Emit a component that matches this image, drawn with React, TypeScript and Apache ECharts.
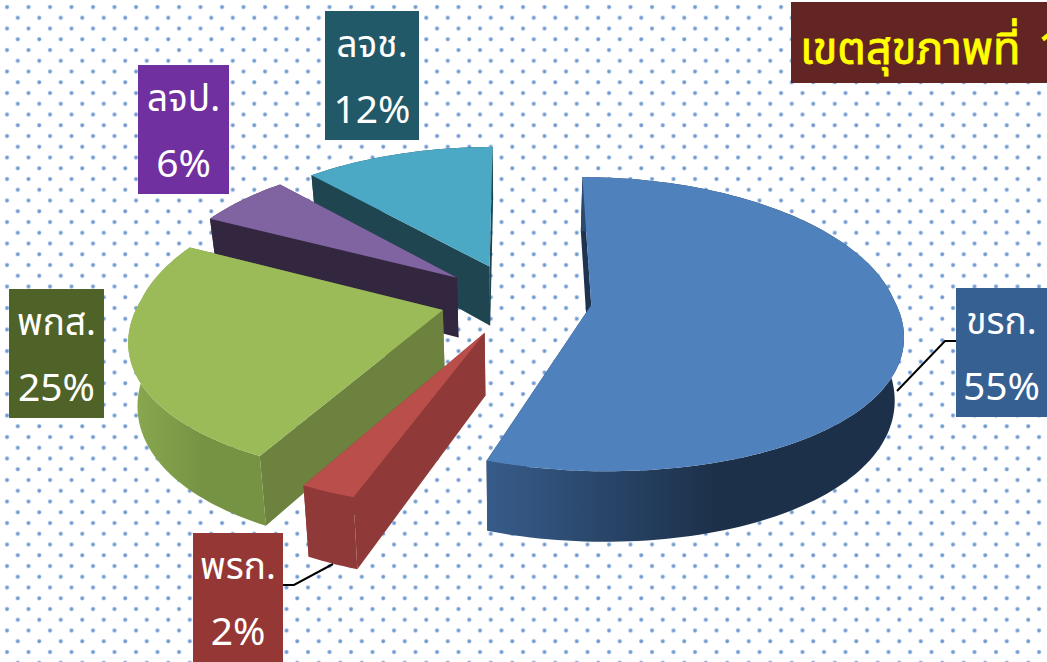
import React, { useEffect, useRef } from "react";
import * as echarts from "echarts";

const categories = ["ขรก.", "พรก.", "พกส.", "ลจป.", "ลจช."];
const shares = [55.3, 2.4, 24.8, 5.8, 11.7];
const percentLabels = ["55%", "2%", "25%", "6%", "12%"];
const topColors = ["#4F81BD", "#BA4E4B", "#9BBB59", "#8064A2", "#4BA9C6"];
const planeColors = ["#1D3350", "#8F3A38", "#6C823E", "#33263F", "#1F4650"];
const wallFrom = ["#375C8A", "#8F3A38", "#8BA94F", "#33263F", "#1F4650"];
const wallTo = ["#1C3049", "#8F3A38", "#769344", "#33263F", "#1F4650"];
const labelFills = ["#376092", "#953735", "#4F6228", "#7030A0", "#215968"];
const labelBoxes = [
  [956, 288, 91, 129],
  [193, 533, 90, 129],
  [9, 289, 95, 129],
  [138, 65, 91, 129],
  [325, 11, 94, 129],
];
const drawOrder = [4, 3, 2, 1, 0];
const titleWords = ["เขตสุขภาพที่ ", "1"];

const CX = 516;
const CY = 299;
const RADIUS = 303;
const SQUASH = 143;
const PERSPECTIVE_Y = 0.13;
const PERSPECTIVE_X_FRONT = 0.175;
const EXPLODE = 0.25;
const DEPTH = 61;
const BOTTOM_SCALE = 0.976;
const FONT = '"Noto Sans Thai", "Noto Sans Thai Looped", "Noto Sans", "DejaVu Sans", sans-serif';

function project(u: number, v: number, low: boolean) {
  const den = 1 - PERSPECTIVE_Y * v;
  const denX = v > 0 ? 1 - PERSPECTIVE_X_FRONT * v : den;
  const x = (RADIUS * u) / denX;
  const y = (SQUASH * v) / den;
  if (!low) return [CX + x, CY + y];
  return [CX + x * BOTTOM_SCALE, CY + y + DEPTH / den];
}

function sliceShapes(start: number, end: number, i: number) {
  const mid = (start + end) / 2;
  const ox = Math.sin(mid) * EXPLODE;
  const oy = -Math.cos(mid) * EXPLODE;
  const steps = Math.max(4, Math.ceil((end - start) * 40));
  const top: number[][] = [];
  const low: number[][] = [];
  for (let s = 0; s <= steps; s++) {
    const a = start + ((end - start) * s) / steps;
    const u = ox + Math.sin(a);
    const v = oy - Math.cos(a);
    top.push(project(u, v, false));
    low.push(project(u, v, true));
  }
  const apexT = project(ox, oy, false);
  const apexL = project(ox, oy, true);
  const poly = (points: number[][], fill: any) => ({
    type: "polygon",
    shape: { points },
    style: { fill, stroke: null },
  });
  const wall = new echarts.graphic.LinearGradient(0, 0, 1, 0, [
    { offset: 0, color: wallFrom[i] },
    { offset: 0.55, color: wallTo[i] },
    { offset: 1, color: wallTo[i] },
  ]);
  return [
    poly([apexT, top[0], low[0], apexL], planeColors[i]),
    poly([apexT, top[steps], low[steps], apexL], planeColors[i]),
    poly([...top, ...low.slice().reverse()], wall),
    poly([apexT, ...top], topColors[i]),
  ];
}

export default function App() {
  const ref = useRef<HTMLDivElement>(null);
  useEffect(() => {
    document.body.style.margin = "0";
    const chart = echarts.init(ref.current!, undefined, { renderer: "svg" });
    const total = shares.reduce((a, b) => a + b, 0);
    const starts: number[] = [];
    let acc = 0;
    shares.forEach((s) => {
      starts.push((acc / total) * Math.PI * 2);
      acc += s;
    });
    const order = drawOrder.map((i) => ({ value: shares[i], name: categories[i], idx: i }));
    const labels: any[] = [];
    categories.forEach((c, i) => {
      const [x, y, w, h] = labelBoxes[i];
      labels.push({
        type: "rect",
        shape: { x, y, width: w, height: h },
        style: { fill: labelFills[i] },
        z: 10,
      });
      labels.push({
        type: "text",
        x: x + w / 2,
        y: y + h / 2 + 3,
        z: 11,
        style: {
          text: `{n|${c}}\n{p|${percentLabels[i]}}`,
          fill: "#FFFFFF",
          align: "center",
          verticalAlign: "middle",
          rich: {
            n: { font: `37px ${FONT}`, fill: "#FFFFFF", lineHeight: 65 },
            p: { font: `39px ${FONT}`, fill: "#FFFFFF", lineHeight: 65 },
          },
        },
      });
    });
    chart.setOption({
      animation: false,
      series: [
        {
          type: "custom",
          coordinateSystem: "none",
          silent: true,
          data: order,
          renderItem: (params: any) => {
            const i = order[params.dataIndex].idx;
            const start = starts[i];
            const end = start + (shares[i] / total) * Math.PI * 2;
            return { type: "group", children: sliceShapes(start, end, i) };
          },
        },
      ],
      graphic: [
        { type: "polyline", z: 5, shape: { points: [[897, 391], [945, 341], [956, 341]] }, style: { stroke: "#000", lineWidth: 2, fill: null } },
        { type: "polyline", z: 5, shape: { points: [[333, 564], [294, 585], [283, 585]] }, style: { stroke: "#000", lineWidth: 2, fill: null } },
        ...labels,
        { type: "rect", z: 10, shape: { x: 791, y: 2, width: 256, height: 81 }, style: { fill: "#632523" } },
        {
          type: "text",
          x: 800,
          y: 50,
          z: 11,
          style: {
            text: `{a|${titleWords[0]}}{b|${titleWords[1]}}`,
            align: "left",
            verticalAlign: "middle",
            rich: {
              a: { font: `45px ${FONT}`, fill: "#FFFF00", stroke: "#FFFF00", lineWidth: 0.8 },
              b: { font: `45px ${FONT}`, fill: "#FFFF00", stroke: "#FFFF00", lineWidth: 0.8, padding: [0, 0, 0, 6] },
            },
          },
        },
      ],
    });
    return () => chart.dispose();
  }, []);
  return (
    <div
      ref={ref}
      style={{
        width: 1047,
        height: 662,
        overflow: "hidden",
        backgroundColor: "#fff",
        backgroundImage:
          "radial-gradient(circle at 7px 7px, #5B8BC9 0, #7FA5D6 1.4px, rgba(255,255,255,0) 2.6px), radial-gradient(circle at 17.75px 17.75px, #5B8BC9 0, #7FA5D6 1.4px, rgba(255,255,255,0) 2.6px)",
        backgroundSize: "21.5px 21.5px",
      }}
    />
  );
}
